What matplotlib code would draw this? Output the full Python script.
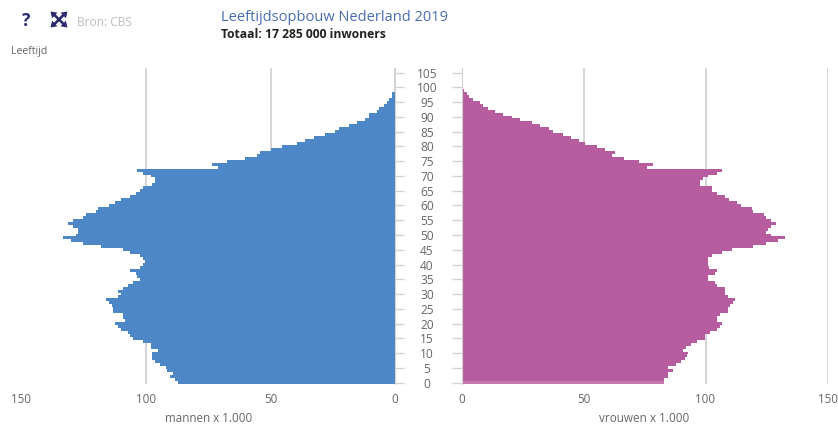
import matplotlib
matplotlib.use("Agg")
import matplotlib.pyplot as plt

## DATA (x 1.000), index = age
mannen = [87.3, 88.3, 90.2, 89.3, 91.4, 92.1, 94.2, 96.2, 97.4, 97.4,
          97.4, 95.3, 98.1, 98.1, 101.1, 105.1, 106.4, 107.1, 110.2, 111.2,
          112.4, 108.3, 109.4, 109.4, 113.1, 113.1, 113.7, 115.0, 116.1, 111.2,
          110.2, 111.2, 109.4, 107.4, 105.3, 102.4, 103.5, 104.0, 106.4, 102.4,
          101.1, 100.4, 101.1, 102.4, 106.4, 109.4, 118.1, 125.2, 130.1, 133.2,
          128.1, 127.2, 127.2, 129.2, 131.2, 129.2, 125.2, 124.1, 120.2, 119.1,
          115.0, 112.4, 110.2, 106.4, 104.1, 102.4, 101.1, 97.4, 96.2, 96.2,
          98.0, 101.1, 103.5, 71.2, 73.5, 67.5, 60.2, 55.4, 54.2, 49.6,
          45.3, 39.2, 36.1, 32.5, 28.2, 24.1, 22.4, 18.3, 15.1, 12.2,
          10.3, 10.3, 7.4, 6.3, 4.3, 3.3, 2.3, 1.3, 1.3]
vrouwen = [82.9, 82.9, 84.8, 84.8, 86.7, 84.8, 87.9, 90.0, 91.6, 92.5,
           92.8, 90.9, 92.0, 93.9, 96.6, 99.9, 99.9, 101.8, 104.8, 106.0,
           106.6, 104.8, 104.8, 106.0, 109.2, 109.2, 109.9, 111.1, 112.1, 109.1,
           107.9, 107.9, 107.9, 104.6, 103.9, 100.9, 100.9, 103.9, 104.8, 101.6,
           101.2, 100.9, 100.9, 102.8, 106.6, 110.9, 119.6, 124.7, 129.8, 132.7,
           127.0, 124.7, 125.7, 127.0, 128.7, 127.0, 124.7, 124.0, 119.6, 119.0,
           114.7, 112.9, 109.8, 107.9, 104.6, 102.8, 102.8, 97.7, 97.7, 98.8,
           100.9, 104.7, 106.6, 75.9, 78.6, 72.7, 66.6, 61.7, 62.9, 58.8,
           55.5, 50.6, 48.0, 44.9, 41.7, 37.7, 35.8, 32.0, 28.8, 24.1,
           20.8, 17.0, 13.9, 11.0, 9.0, 7.4, 4.6, 2.9, 2.2, 1.0,
           0.8, 0.4, 0.3, 0.3, 0.3, 0.3]
x_ticks = [0, 50, 100, 150]
y_ticks = [0, 5, 10, 15, 20, 25, 30, 35, 40, 45, 50, 55, 60, 65, 70, 75, 80, 85, 90, 95, 100, 105]

W, H = 838, 429
GRIJS = "#d2d2d2"
TEKST = "#666666"
plt.rcParams["font.family"] = "Open Sans"

fig = plt.figure(figsize=(W / 100, H / 100), dpi=100)


def pixel_axes(left, right, top, bottom):
    return fig.add_axes([left / W, 1 - bottom / H, (right - left) / W, (bottom - top) / H])


## MEN
ax_m = pixel_axes(21.5, 395, 68, 384)
ax_m.barh(range(len(mannen)), mannen, height=1.0, color="#4d87c7", linewidth=0, zorder=3)
ax_m.set_xlim(150, 0)
ax_m.set_ylim(-0.5, 106.6)

## WOMEN
ax_v = pixel_axes(461.5, 827.5, 68, 384)
kleuren = ["#c678b0"] + ["#b85ca0"] * (len(vrouwen) - 1)  # age 0 is lighter
ax_v.barh(range(len(vrouwen)), vrouwen, height=1.0, color=kleuren, linewidth=0, zorder=3)
ax_v.set_xlim(0, 150)
ax_v.set_ylim(-0.5, 106.6)

for ax in (ax_m, ax_v):
    for kant in ("top", "bottom", "left", "right"):
        ax.spines[kant].set_visible(False)
    ax.set_xticks(x_ticks)
    ax.set_yticks(y_ticks)
    ax.xaxis.grid(True, color=GRIJS, lw=1.3, zorder=0)
    ax.set_axisbelow(True)
    ax.tick_params(axis="x", length=0, pad=6.5, labelsize=8.4, labelcolor=TEKST)

ax_m.spines["right"].set_visible(True)
ax_m.spines["right"].set_color(GRIJS)
ax_m.spines["right"].set_zorder(4)
ax_v.spines["left"].set_visible(True)
ax_v.spines["left"].set_color(GRIJS)
ax_v.spines["left"].set_zorder(4)

ax_m.yaxis.tick_right()
ax_m.tick_params(axis="y", length=6.5, width=1, color=GRIJS, pad=16.5, labelsize=8.6, labelcolor=TEKST)
for lab in ax_m.get_yticklabels():
    lab.set_ha("center")
ax_v.tick_params(axis="y", length=7, width=1, color=GRIJS, labelleft=False)

## TEXT AND ICONS (pixel coordinates)
over = fig.add_axes([0, 0, 1, 1], facecolor="none")
over.set_xlim(0, W)
over.set_ylim(H, 0)
over.axis("off")

over.text(221, 17.5, "Leeftijdsopbouw Nederland 2019", color="#4a6db0", fontsize=10.5, va="center")
over.text(221, 34.5, "Totaal: 17 285 000 inwoners", color="#222222", fontsize=8.7, weight="bold", va="center")
over.text(77, 22, "Bron: CBS", color="#bdbdbd", fontsize=8.6, va="center")
over.text(11, 51.5, "Leeftijd", color="#666666", fontsize=7.6, va="center")
over.text(26.5, 20.5, "?", color="#2b2a6e", fontsize=12.5, weight="bold", ha="center", va="center")
over.text(208.5, 418, "mannen x 1.000", color=TEKST, fontsize=8.4, ha="center", va="center")
over.text(644.5, 418, "vrouwen x 1.000", color=TEKST, fontsize=8.5, ha="center", va="center")

# arrows icon: an X with a small head on each corner
over.plot([53, 65], [13.5, 25.5], color="#2b2a6e", lw=1.9, solid_capstyle="butt")
over.plot([53, 65], [25.5, 13.5], color="#2b2a6e", lw=1.9, solid_capstyle="butt")
for dx, dy in [(-8.5, -8), (8.5, -8), (-8.5, 8), (8.5, 8)]:
    over.annotate("", xy=(59 + dx, 19.5 + dy), xytext=(59 + dx * 0.4, 19.5 + dy * 0.4),
                  arrowprops=dict(arrowstyle="-|>,head_length=0.42,head_width=0.28",
                                  color="#2b2a6e", lw=0, shrinkA=0, shrinkB=0))

fig.savefig("out.png", dpi=100)
